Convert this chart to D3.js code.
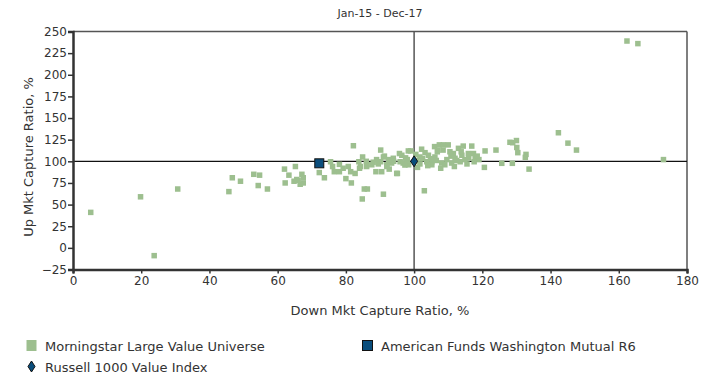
<!DOCTYPE html>
<html>
<head>
<meta charset="utf-8">
<script src="https://cdn.jsdelivr.net/npm/d3@7"></script>
<style>
  html, body { margin: 0; padding: 0; background: #fff; }
  svg text { font-family: "DejaVu Sans", Verdana, sans-serif; fill: #333; }
</style>
</head>
<body>
<svg id="chart" width="719" height="377"></svg>
<script>
// ---- Data ----
const chartTitle = "Jan-15 - Dec-17";
const xTitle = "Down Mkt Capture Ratio, %";
const yTitle = "Up Mkt Capture Ratio, %";
const xTicks = [0, 20, 40, 60, 80, 100, 120, 140, 160, 180];
const yTicks = [-25, 0, 25, 50, 75, 100, 125, 150, 175, 200, 225, 250];
const seriesNames = ["Morningstar Large Value Universe", "American Funds Washington Mutual R6", "Russell 1000 Value Index"];

// Universe: [down capture, up capture]
const universeDown = [
  5.2, 19.8, 23.8, 30.7, 45.7, 46.7, 49.1, 53, 54.7, 54.3, 57, 62, 65.2, 63.3, 62.2, 65.6, 64.8, 67.1, 67.5, 67.5,
  66.6, 66, 72.2, 73.7, 75.5, 76.1, 76.6, 78.1, 78.1, 79.2, 80, 80.7, 81.6, 81.4, 82.7, 82.2, 83.8, 84.3, 84.9, 85.4,
  86.3, 84.8, 86.1, 87.6, 88.8, 89, 90.2, 90.2, 90.5, 91.3, 91, 92, 92.7, 93.4, 93.9, 95.1, 95.7, 95.9, 96.8, 98,
  98.3, 98.4, 96.4, 97.3, 99, 94.9, 91, 92, 94, 92.5, 89.5, 88, 86, 84, 97.5, 101,
  101.7, 101.7, 103.2, 103.7, 104.2, 105.2, 105.2, 106, 106.1, 106.8, 107.4, 107.8, 108.1, 108.6, 109.6, 110, 110.5, 111, 111.5, 112,
  113, 113.5, 114, 114.4, 114.9, 115.9, 116.9, 117.4, 117.6, 117.9, 120.8, 120.6, 124, 125.7, 128.1, 128.9, 130, 130.1, 130.4, 128.8,
  132.8, 132.6, 133.7, 142.3, 145.1, 147.6, 162.4, 165.6, 173.1, 103, 100.8, 102.5, 104, 106.5, 109, 112.5, 115.5, 119, 110.8, 104.8,
  107, 113.8, 116, 118.5, 100.5, 102.2, 108.5, 111.8
];
const universeUp = [
  41, 59, -9, 68, 65, 81, 77, 85, 84, 72, 68, 91, 94, 84, 75, 79, 77, 85, 81, 75,
  73.5, 78, 87, 81, 99.5, 94, 88, 96.5, 88, 92, 80, 94, 75, 88, 86, 118, 99.5, 94, 105, 68,
  68, 56.5, 94, 96, 88, 102, 113, 99.5, 88, 106, 62, 96, 91, 98, 103.5, 86, 109, 99.5, 98, 102,
  112, 96, 107, 95.7, 112, 86, 105, 94, 100, 102, 97, 99, 100, 92, 104, 93,
  105, 97, 110, 99.5, 107, 99.5, 96, 117, 105, 111, 119, 92, 98, 119, 102, 119, 111, 98, 109, 103.5,
  115, 99.5, 107, 117.6, 102, 109, 117.6, 109, 99.5, 104.6, 112, 93, 113, 97.7, 122, 121.5, 124, 116, 110, 97.7,
  108, 104.6, 91, 133, 121, 113, 239, 236, 102, 66, 101, 103, 95, 101, 96, 101, 97, 102, 106, 103,
  113, 111, 104, 106, 108, 114, 113, 94
];

const fundDown = [72.2];
const fundUp = [97.7];
const indexDown = [100];
const indexUp = [100];

// ---- Layout ----
const svg = d3.select("#chart");
const mLeft = 73, mRight = 687, mTop = 31.5, mBottom = 269.5;
const x = d3.scaleLinear().domain([0, 180]).range([mLeft, mRight]);
const y = d3.scaleLinear().domain([-25, 250]).range([mBottom, mTop]);

const green = "#9dbf8f";
const blue = "#0a4d7c";

// frame top/right
svg.append("line").attr("x1", mLeft).attr("x2", mRight).attr("y1", mTop).attr("y2", mTop)
  .attr("stroke", "#555").attr("stroke-width", 1.5);
svg.append("line").attr("x1", mRight).attr("x2", mRight).attr("y1", mTop).attr("y2", mBottom)
  .attr("stroke", "#555").attr("stroke-width", 1.5);

// reference lines
svg.append("line").attr("x1", x(100)).attr("x2", x(100)).attr("y1", mTop).attr("y2", mBottom)
  .attr("stroke", "#555").attr("stroke-width", 1.5);
svg.append("line").attr("x1", mLeft).attr("x2", mRight).attr("y1", y(100)).attr("y2", y(100))
  .attr("stroke", "#111").attr("stroke-width", 1.2);

// axes
const xAxis = d3.axisBottom(x).tickValues(xTicks).tickSize(4).tickPadding(3).tickFormat(d3.format("d"));
const yAxis = d3.axisLeft(y).tickValues(yTicks).tickSize(5).tickPadding(1).tickFormat(d3.format("d"));

const gx = svg.append("g").attr("transform", `translate(0,${mBottom})`).call(xAxis);
const gy = svg.append("g").attr("transform", `translate(${mLeft},0)`).call(yAxis);
[gx, gy].forEach(g => {
  g.select(".domain").attr("stroke", "#333").attr("stroke-width", 2.5);
  g.selectAll(".tick line").attr("stroke", "#333").attr("stroke-width", 1.5);
  g.selectAll(".tick text").attr("font-size", 12).attr("fill", "#333")
    .attr("font-family", "'DejaVu Sans', Verdana, sans-serif");
});

// universe points
const uni = universeDown.map((d, i) => ({ d, u: universeUp[i] }));
const sq = 5.5;
svg.append("g").selectAll("rect").data(uni).join("rect")
  .attr("x", p => x(p.d) - sq / 2).attr("y", p => y(p.u) - sq / 2)
  .attr("width", sq).attr("height", sq).attr("fill", green);

// fund
const fund = fundDown.map((d, i) => ({ d, u: fundUp[i] }));
svg.append("g").selectAll("rect").data(fund).join("rect")
  .attr("x", p => x(p.d) - 4.5).attr("y", p => y(p.u) - 4.5)
  .attr("width", 9).attr("height", 9).attr("fill", blue).attr("stroke", "#111").attr("stroke-width", 1);

// index diamond
const idx = indexDown.map((d, i) => ({ d, u: indexUp[i] }));
const diamond = "M0,-5.5L3.5,0L0,5.5L-3.5,0Z";
svg.append("g").selectAll("path").data(idx).join("path")
  .attr("transform", p => `translate(${x(p.d)},${y(p.u)})`)
  .attr("d", diamond).attr("fill", blue).attr("stroke", "#111").attr("stroke-width", 1);

// titles
svg.append("text").attr("x", (mLeft + mRight) / 2).attr("y", 17).attr("text-anchor", "middle")
  .attr("font-size", 11).text(chartTitle);
svg.append("text").attr("x", (mLeft + mRight) / 2).attr("y", 315).attr("text-anchor", "middle")
  .attr("font-size", 13).text(xTitle);
svg.append("text").attr("transform", `translate(33,157) rotate(-90)`)
  .attr("text-anchor", "middle").attr("font-size", 13).text(yTitle);

// legend
const lg = svg.append("g");
lg.append("rect").attr("x", 26.5).attr("y", 340).attr("width", 10).attr("height", 11).attr("fill", green);
lg.append("text").attr("x", 45).attr("y", 351).attr("font-size", 13).text(seriesNames[0]);
lg.append("rect").attr("x", 362.5).attr("y", 340.5).attr("width", 10).attr("height", 10).attr("fill", blue)
  .attr("stroke", "#111").attr("stroke-width", 1);
lg.append("text").attr("x", 381).attr("y", 351).attr("font-size", 13).text(seriesNames[1]);
lg.append("path").attr("transform", "translate(31.5,366.5)").attr("d", diamond)
  .attr("fill", blue).attr("stroke", "#111").attr("stroke-width", 1);
lg.append("text").attr("x", 45).attr("y", 371.5).attr("font-size", 13).text(seriesNames[2]);
</script>
</body>
</html>
